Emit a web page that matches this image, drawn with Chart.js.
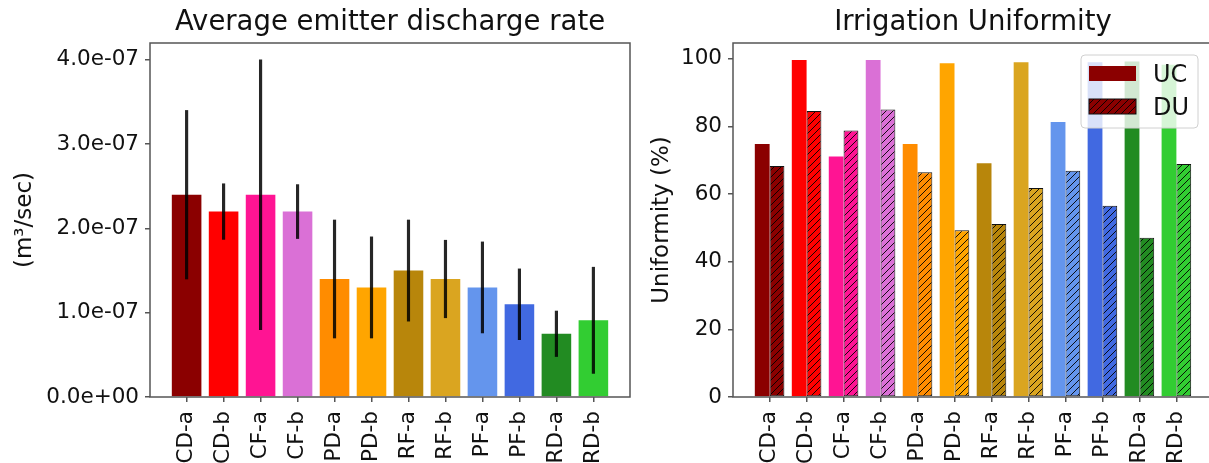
<!DOCTYPE html>
<html><head><meta charset="utf-8">
<script src="https://cdn.jsdelivr.net/npm/chart.js@4"></script>
<style>
html,body{margin:0;padding:0;background:#fff;overflow:hidden;width:1209px;height:463px;}
#wrap{position:relative;width:1209px;height:463px;overflow:hidden;}
canvas{position:absolute;top:0;}
#c1{left:0}
#c2{left:640px}
</style></head><body>
<div id="wrap"><canvas id="c1" width="640" height="463"></canvas><canvas id="c2" width="580" height="463"></canvas></div>
<script>
// ---- data ----
const categories = ['CD-a','CD-b','CF-a','CF-b','PD-a','PD-b','RF-a','RF-b','PF-a','PF-b','RD-a','RD-b'];
const dischargeMean = [2.40e-7, 2.20e-7, 2.40e-7, 2.20e-7, 1.40e-7, 1.30e-7, 1.50e-7, 1.40e-7, 1.30e-7, 1.10e-7, 0.75e-7, 0.91e-7];
const dischargeErr  = [1.00e-7, 0.33e-7, 1.60e-7, 0.32e-7, 0.70e-7, 0.60e-7, 0.60e-7, 0.46e-7, 0.54e-7, 0.42e-7, 0.27e-7, 0.63e-7];
const ucValues = [74.8, 99.7, 71.1, 99.7, 74.8, 98.7, 69.1, 99.0, 81.3, 99.0, 99.2, 98.3];
const duValues = [68.3, 84.6, 78.8, 85.0, 66.5, 49.3, 51.2, 61.8, 66.9, 56.6, 47.1, 68.9];
const seriesNames = ['UC', 'DU'];
const barColors = ['#8B0000','#FF0000','#FF1493','#DA70D6','#FF8C00','#FFA500','#B8860B','#DAA520','#6495ED','#4169E1','#228B22','#32CD32'];
const titles = ['Average emitter discharge rate', 'Irrigation Uniformity'];
const yLabels = ['(m\u00B3/sec)', 'Uniformity (%)'];

// ---- helpers ----
const FONT = "'DejaVu Sans', sans-serif";
const INK = '#111';
const AXIS = '#555';

function fmtExp(v) {
  if (Math.abs(v) < 1e-20) return '0.0e+00';
  let e = Math.floor(Math.log10(Math.abs(v)) + 1e-9);
  const m = v / Math.pow(10, e);
  return m.toFixed(1) + 'e' + (e < 0 ? '-' : '+') + String(Math.abs(e)).padStart(2, '0');
}

function makeHatch(color) {
  const s = 7;
  const c = document.createElement('canvas');
  c.width = s; c.height = s;
  const g = c.getContext('2d');
  g.fillStyle = color; g.fillRect(0, 0, s, s);
  g.strokeStyle = 'rgba(0,0,0,0.9)'; g.lineWidth = 1;
  g.beginPath();
  g.moveTo(0, s); g.lineTo(s, 0);
  g.moveTo(-1, 1); g.lineTo(1, -1);
  g.moveTo(s - 1, s + 1); g.lineTo(s + 1, s - 1);
  g.stroke();
  return g.createPattern(c, 'repeat');
}

const framePlugin = {
  id: 'frame',
  afterDatasetsDraw(chart) {
    const { ctx, chartArea: a } = chart;
    ctx.save();
    ctx.strokeStyle = AXIS; ctx.lineWidth = 1.5;
    ctx.strokeRect(a.left, a.top, a.right - a.left, a.bottom - a.top);
    ctx.restore();
  }
};

const boxLegendPlugin = {
  id: 'boxLegend',
  afterDatasetsDraw(chart) {
    const { ctx, chartArea: a } = chart;
    const w = 117, h = 73;
    const x = a.right - 15 - w, y = a.top + 12;
    ctx.save();
    ctx.beginPath();
    ctx.roundRect(x, y, w, h, 4);
    ctx.fillStyle = 'rgba(255,255,255,0.8)';
    ctx.fill();
    ctx.strokeStyle = '#d0d0d0'; ctx.lineWidth = 1;
    ctx.stroke();
    chart.data.datasets.forEach((ds, i) => {
      const py = y + 11 + i * 33;
      ctx.fillStyle = ds.legendFill;
      ctx.fillRect(x + 8, py, 47, 15);
      if (ds.borderWidth) {
        ctx.strokeStyle = '#111'; ctx.lineWidth = 1;
        ctx.strokeRect(x + 8, py, 47, 15);
      }
      ctx.fillStyle = INK;
      ctx.font = "24px " + FONT;
      ctx.textBaseline = 'alphabetic';
      ctx.textAlign = 'left';
      ctx.fillText(ds.label, x + 72, py + 16);
    });
    ctx.restore();
  }
};

function xScale() {
  return {
    type: 'linear', min: -0.99, max: 11.99, offset: false,
    grid: { display: true, drawOnChartArea: false, drawTicks: true, tickLength: 5, color: AXIS, lineWidth: 1.5, offset: false },
    border: { display: false },
    ticks: {
      stepSize: 1, includeBounds: false, autoSkip: false, minRotation: 90, maxRotation: 90,
      padding: 9, color: INK, font: { family: FONT, size: 21.5 },
      callback: (v) => (Number.isInteger(v) && categories[v] !== undefined) ? categories[v] : ''
    },
    afterFit: (s) => { s.height = 66; }
  };
}

function yScale(max, step, label, width, titlePad, fmt) {
  return {
    type: 'linear', min: 0, max: max,
    grid: { display: true, drawOnChartArea: false, drawTicks: true, tickLength: 5, color: AXIS, lineWidth: 1.5 },
    border: { display: false },
    ticks: { stepSize: step, includeBounds: false, padding: 6, color: INK, font: { family: FONT, size: 21.5 }, callback: fmt },
    title: { display: true, text: label, color: INK, font: { family: FONT, size: 23 }, padding: { top: titlePad, bottom: 0 } },
    afterFit: (s) => { s.width = width; }
  };
}

function baseOptions(title, padRight) {
  return {
    responsive: false, animation: false, devicePixelRatio: 1,
    layout: { padding: { left: 0, right: padRight, top: 0, bottom: 0 } },
    plugins: {
      legend: { display: false }, tooltip: { enabled: false },
      title: { display: true, text: title, fullSize: false, color: INK, font: { family: FONT, size: 27.5, weight: 'normal' }, padding: { top: 6, bottom: 4 } }
    }
  };
}

// ---- left chart ----
const opt1 = baseOptions(titles[0], 10);
opt1.scales = { x: xScale(), y: yScale(4.2e-7, 1e-7, yLabels[0], 150, 11, (v) => fmtExp(v)) };
new Chart(document.getElementById('c1'), {
  type: 'bar',
  data: {
    datasets: [
      {
        label: 'error', order: 0, grouped: false,
        data: dischargeMean.map((m, i) => ({ x: i, y: [m - dischargeErr[i], m + dischargeErr[i]] })),
        backgroundColor: 'rgba(0,0,0,0.85)', borderWidth: 0, maxBarThickness: 2.5,
        categoryPercentage: 1, barPercentage: 1
      },
      {
        label: 'mean', order: 1,
        data: dischargeMean.map((m, i) => ({ x: i, y: m })),
        backgroundColor: barColors, borderWidth: 0,
        categoryPercentage: 0.8, barPercentage: 1
      }
    ]
  },
  options: opt1,
  plugins: [framePlugin]
});

// ---- right chart ----
const opt2 = baseOptions(titles[1], 7);
opt2.scales = { x: xScale(), y: yScale(104.7, 20, yLabels[1], 93, 8, (v) => String(Math.round(v))) };
new Chart(document.getElementById('c2'), {
  type: 'bar',
  data: {
    datasets: [
      {
        label: seriesNames[0],
        data: ucValues.map((v, i) => ({ x: i, y: v })),
        backgroundColor: barColors, borderWidth: 0,
        legendFill: barColors[0],
        categoryPercentage: 0.8, barPercentage: 1
      },
      {
        label: seriesNames[1],
        data: duValues.map((v, i) => ({ x: i, y: v })),
        backgroundColor: barColors.map(makeHatch), borderColor: '#111', borderWidth: 1, borderSkipped: false,
        legendFill: makeHatch(barColors[0]),
        categoryPercentage: 0.8, barPercentage: 1
      }
    ]
  },
  options: opt2,
  plugins: [framePlugin, boxLegendPlugin]
});
</script>
</body></html>
